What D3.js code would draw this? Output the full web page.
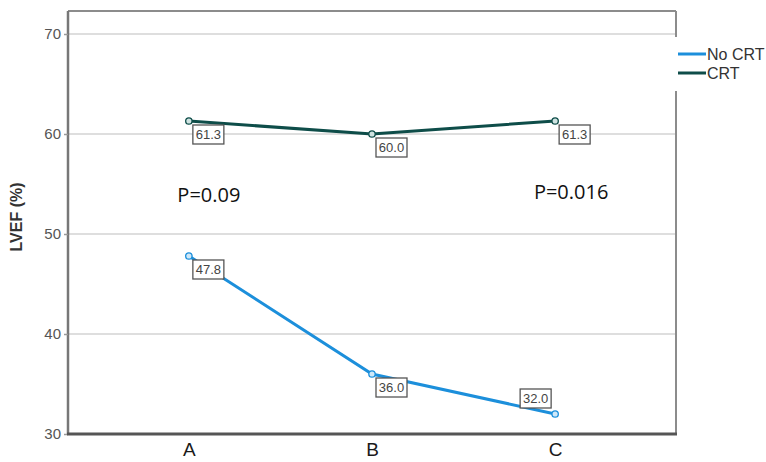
<!DOCTYPE html>
<html>
<head>
<meta charset="utf-8">
<script src="https://cdn.jsdelivr.net/npm/d3@7"></script>
<style>
  body { margin: 0; background: #fff; }
  svg { display: block; font-family: "Liberation Sans", Arial, sans-serif; }
</style>
</head>
<body>
<script>
const categories = ['A', 'B', 'C'];
const noCrt = [47.8, 36.0, 32.0];
const crt = [61.3, 60.0, 61.3];
const yTicks = [30, 40, 50, 60, 70];
const pValues = ['P=0.09', null, 'P=0.016'];
// where each value box sits relative to its point
const noCrtLabelSide = ['below', 'below', 'above'];
const crtLabelSide = ['below', 'below', 'below'];

const width = 766, height = 462;
const plotLeft = 68, plotRight = 676, plotTop = 11, plotBottom = 434;

const series = [
  { name: 'No CRT', values: noCrt, side: noCrtLabelSide, color: '#1c8fdb', dot: '#cfe8f8' },
  { name: 'CRT', values: crt, side: crtLabelSide, color: '#0e4d49', dot: '#cfe3e1' }
];

const x = d3.scalePoint().domain(categories).range([plotLeft, plotRight]).padding(0.66);
const y = d3.scaleLinear().domain([30, 72.3]).range([plotBottom, plotTop]);

const svg = d3.select('body').append('svg')
  .attr('width', width)
  .attr('height', height);

// gridlines
svg.append('g')
  .selectAll('line')
  .data(yTicks.filter(d => d > 30))
  .enter()
  .append('line')
  .attr('x1', plotLeft).attr('x2', plotRight)
  .attr('y1', d => y(d)).attr('y2', d => y(d))
  .attr('stroke', '#d3d3d3')
  .attr('stroke-width', 1.5);

// frame (top + right)
svg.append('line')
  .attr('x1', plotLeft).attr('x2', plotRight).attr('y1', plotTop).attr('y2', plotTop)
  .attr('stroke', '#8c8c8c').attr('stroke-width', 2);
svg.append('line')
  .attr('x1', plotRight).attr('x2', plotRight).attr('y1', plotTop).attr('y2', plotBottom)
  .attr('stroke', '#8c8c8c').attr('stroke-width', 2);

// y axis
const yAxis = svg.append('g')
  .attr('transform', `translate(${plotLeft},0)`)
  .call(d3.axisLeft(y).tickValues(yTicks).tickSize(4).tickPadding(3));
yAxis.select('.domain').attr('stroke', '#777').attr('stroke-width', 2.5)
  .attr('d', `M0,${plotTop}V${plotBottom}`);
yAxis.selectAll('.tick line').attr('stroke', '#999').attr('stroke-width', 1.5);
yAxis.selectAll('.tick text')
  .attr('font-size', 15).attr('fill', '#555')
  .attr('font-family', '"Liberation Sans", Arial, sans-serif');

// x axis
const xAxis = svg.append('g')
  .attr('transform', `translate(0,${plotBottom})`)
  .call(d3.axisBottom(x).tickSize(0).tickPadding(9));
xAxis.select('.domain').attr('stroke', '#555').attr('stroke-width', 3)
  .attr('d', `M${plotLeft - 1},0H${plotRight + 1}`);
xAxis.selectAll('.tick text')
  .attr('font-size', 19).attr('fill', '#1a1a1a')
  .attr('font-family', '"Liberation Sans", Arial, sans-serif');

// y title
svg.append('text')
  .attr('transform', `translate(22,217) rotate(-90)`)
  .attr('text-anchor', 'middle')
  .attr('font-size', 16)
  .attr('font-weight', 'bold')
  .attr('fill', '#333')
  .text('LVEF (%)');

// lines
const line = d3.line()
  .x((d, i) => x(categories[i]))
  .y(d => y(d));

series.forEach(s => {
  svg.append('path')
    .datum(s.values)
    .attr('fill', 'none')
    .attr('stroke', s.color)
    .attr('stroke-width', 3)
    .attr('d', line);

  svg.append('g')
    .selectAll('circle')
    .data(s.values)
    .enter()
    .append('circle')
    .attr('cx', (d, i) => x(categories[i]))
    .attr('cy', d => y(d))
    .attr('r', 3.2)
    .attr('fill', s.dot)
    .attr('stroke', s.color)
    .attr('stroke-width', 1.3);
});

// value boxes
const boxW = 31, boxH = 19;
series.forEach(s => {
  const g = svg.append('g')
    .selectAll('g')
    .data(s.values)
    .enter()
    .append('g')
    .attr('transform', (d, i) => {
      const px = x(categories[i]), py = y(d);
      if (s.side[i] === 'above') return `translate(${px - 4 - boxW},${py - 6 - boxH})`;
      return `translate(${px + 4},${py + 4})`;
    });
  g.append('rect')
    .attr('width', boxW).attr('height', boxH)
    .attr('fill', '#fff')
    .attr('stroke', '#555')
    .attr('stroke-width', 1.3);
  g.append('text')
    .attr('x', boxW / 2).attr('y', boxH / 2 + 4.5)
    .attr('text-anchor', 'middle')
    .attr('font-size', 13)
    .attr('fill', '#444')
    .text(d => d.toFixed(1));
});

// p values
svg.append('g')
  .selectAll('text')
  .data(pValues.map((p, i) => ({ p, c: categories[i] })).filter(d => d.p))
  .enter()
  .append('text')
  .attr('x', d => x(d.c) + (d.c === 'A' ? 20 : 16))
  .attr('y', (d, i) => i === 0 ? 202 : 199)
  .attr('text-anchor', 'middle')
  .attr('font-family', '"Open Sans", sans-serif')
  .attr('font-size', 20)
  .attr('fill', '#111')
  .text(d => d.p);

// legend
const legend = svg.append('g');
legend.append('rect')
  .attr('x', plotRight - 3).attr('y', 37)
  .attr('width', width - plotRight + 3).attr('height', 54)
  .attr('fill', '#fff');
series.forEach((s, i) => {
  const ly = 54 + i * 19;
  legend.append('line')
    .attr('x1', 678).attr('x2', 706)
    .attr('y1', ly).attr('y2', ly)
    .attr('stroke', s.color).attr('stroke-width', 3);
  legend.append('text')
    .attr('x', 707).attr('y', ly + 5.5)
    .attr('font-size', 16)
    .attr('fill', '#333')
    .text(s.name);
});
</script>
</body>
</html>
